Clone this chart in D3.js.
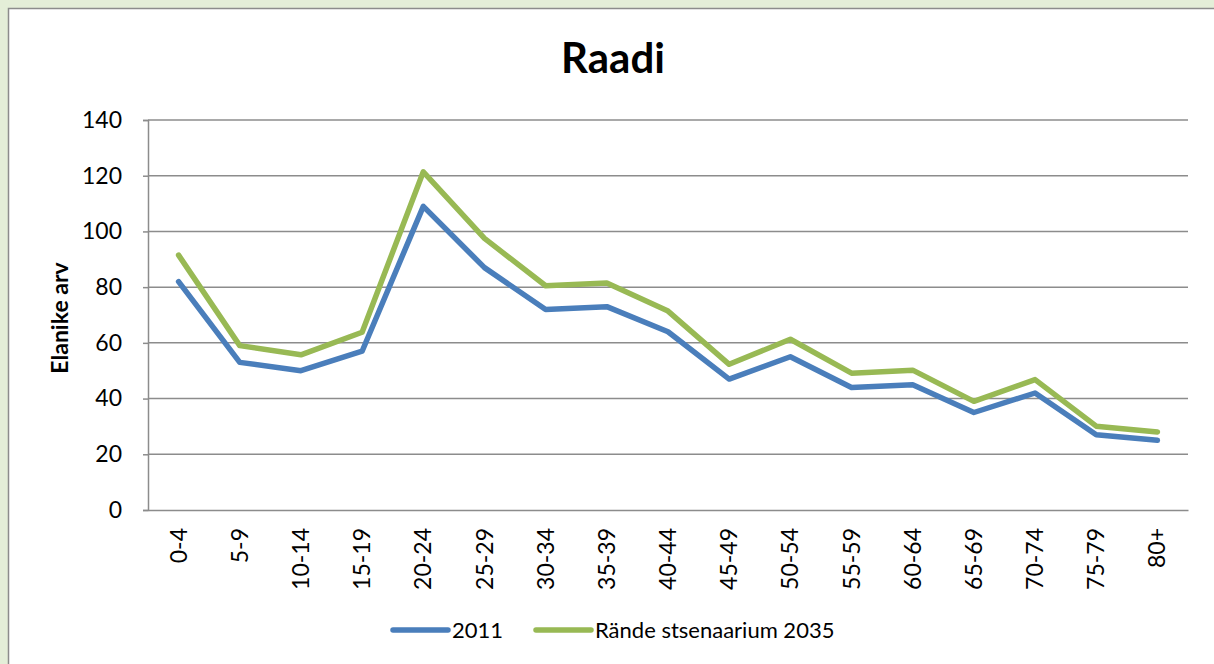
<!DOCTYPE html>
<html lang="et">
<head>
  <meta charset="utf-8" />
  <title>Raadi</title>
  <script src="https://cdnjs.cloudflare.com/ajax/libs/d3/7.8.5/d3.min.js"></script>
  <style>
    body {
      margin: 0;
      background: #e4eed8;
      font-family: Lato, 'Open Sans', sans-serif;
    }
    svg { display: block; }
  </style>
</head>
<body>
<svg id="chart" width="1214" height="664"></svg>
<script>
const ageGroups = ["0-4", "5-9", "10-14", "15-19", "20-24", "25-29", "30-34", "35-39", "40-44",
                   "45-49", "50-54", "55-59", "60-64", "65-69", "70-74", "75-79", "80+"];
const values2011 = [82, 53, 50, 57, 109, 87, 72, 73, 64, 47, 55, 44, 45, 35, 42, 27, 25];
const values2035 = [91.5, 59, 55.7, 63.8, 121.4, 97.5, 80.5, 81.5, 71.4, 52.3, 61.3, 49.1, 50.2, 39, 46.8, 30.1, 28];
const yTicks = [0, 20, 40, 60, 80, 100, 120, 140];

const series = [
  {name: "2011", values: values2011, color: "#4a7ebb"},
  {name: "Rände stsenaarium 2035", values: values2035, color: "#98b954"}
];

const svg = d3.select("#chart");
const margin = {top: 120, right: 26, bottom: 154, left: 148};
const width = 1214 - margin.left - margin.right,
      height = 664 - margin.top - margin.bottom;

// chart box
svg.append("rect")
  .attr("x", 8.5).attr("y", 8.5)
  .attr("width", 1230).attr("height", 680)
  .attr("fill", "#fff")
  .attr("stroke", "#8c8c8c")
  .attr("stroke-width", 1.5);

svg.append("text")
  .attr("x", 613).attr("y", 73)
  .attr("text-anchor", "middle")
  .style("font-size", "42px")
  .style("font-weight", "bold")
  .text("Raadi");

const g = svg.append("g").attr("transform", `translate(${margin.left},${margin.top})`);

const x = d3.scaleBand().domain(ageGroups).range([0, width]);
const y = d3.scaleLinear().domain([0, 140]).range([height, 0]);

// gridlines
g.selectAll(".grid")
  .data(yTicks.slice(1))
  .enter()
  .append("line")
  .attr("x1", 0).attr("x2", width)
  .attr("y1", d => y(d)).attr("y2", d => y(d))
  .attr("stroke", "#8c8c8c")
  .attr("stroke-width", 1.5);

const yAxis = g.append("g")
  .call(d3.axisLeft(y).tickValues(yTicks).tickSize(5).tickPadding(21));
yAxis.select(".domain").attr("stroke", "#8c8c8c").attr("stroke-width", 1.5);
yAxis.selectAll(".tick line").attr("stroke", "#8c8c8c").attr("stroke-width", 1.5);
yAxis.selectAll("text").style("font-size", "23px").style("font-family", "Lato, sans-serif").attr("fill", "#000");

const xAxis = g.append("g")
  .attr("transform", `translate(0,${height})`)
  .call(d3.axisBottom(x).tickSize(0).tickPadding(0));
xAxis.select(".domain").attr("stroke", "#8c8c8c").attr("stroke-width", 1.5);
xAxis.selectAll("text")
  .style("font-size", "23px")
  .style("font-family", "Lato, sans-serif")
  .attr("fill", "#000")
  .attr("transform", "rotate(-90)")
  .attr("text-anchor", "end")
  .attr("x", -18)
  .attr("y", 0)
  .attr("dy", "0.35em");

svg.append("text")
  .attr("transform", "translate(60,318) rotate(-90)")
  .attr("text-anchor", "middle")
  .attr("dy", "0.35em")
  .style("font-size", "23px")
  .style("font-weight", "bold")
  .text("Elanike arv");

const line = d3.line()
  .x((d, i) => x(ageGroups[i]) + x.bandwidth() / 2)
  .y(d => y(d));

series.forEach(s => {
  g.append("path")
    .datum(s.values)
    .attr("fill", "none")
    .attr("stroke", s.color)
    .attr("stroke-width", 5.5)
    .attr("stroke-linejoin", "round")
    .attr("stroke-linecap", "round")
    .attr("d", line);
});

// legend
const legendX = [393, 536];
series.forEach((s, i) => {
  const row = svg.append("g").attr("transform", `translate(${legendX[i]},630)`);
  row.append("line")
    .attr("x1", 0).attr("x2", 55)
    .attr("stroke", s.color)
    .attr("stroke-width", 5.5)
    .attr("stroke-linecap", "round");
  row.append("text")
    .attr("x", 59).attr("y", 0).attr("dy", "0.35em")
    .style("font-size", "22px")
    .text(s.name);
});
</script>
</body>
</html>
